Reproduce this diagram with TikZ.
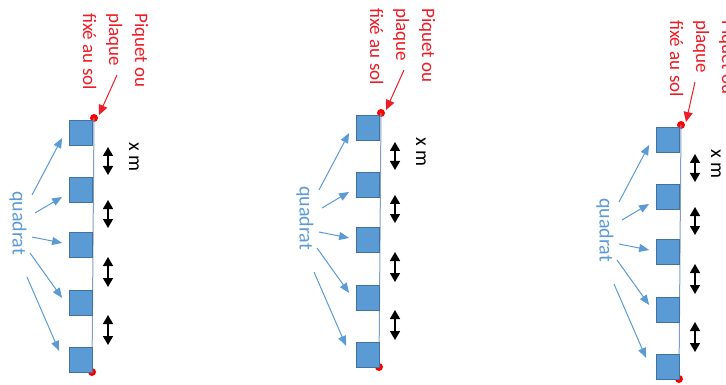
\documentclass[tikz,border=0pt]{standalone}
\usepackage{fontspec}
\setmainfont{Carlito}
\usetikzlibrary{arrows.meta}
\definecolor{qblue}{HTML}{5B9BD5}
\definecolor{qborder}{HTML}{41719C}
\definecolor{qred}{HTML}{EE1C25}
\definecolor{qline}{HTML}{7F9FC8}
\tikzset{
  quad/.style={draw=qborder, fill=qblue, line width=0.9pt, minimum width=23pt, minimum height=25pt, inner sep=0pt, anchor=north east},
  pinpt/.style={circle, fill=red, inner sep=0pt, minimum size=8pt},
  bluearrow/.style={qblue, line width=1pt, -{Triangle[length=10pt,width=8pt]}},
  gaparrow/.style={black, line width=1.5pt, {Triangle[length=9pt,width=10pt]}-{Triangle[length=9pt,width=10pt]}},
  redlbl/.style={text=qred, font=\fontsize{19}{21}\selectfont, rotate=-90, anchor=base west, inner sep=0pt},
  redarrow/.style={qred, line width=1pt, -{Triangle[length=10pt,width=9pt]}},
  bluelbl/.style={text=qblue, font=\fontsize{20}{22}\selectfont, rotate=-90, inner sep=0pt},
  blacklbl/.style={font=\fontsize{20}{22}\selectfont, rotate=-90, inner sep=0pt},
  baseline/.style={qline, line width=1pt}
}
\begin{document}
\begin{tikzpicture}[x=1pt,y=-1pt]
\useasboundingbox (0,0) rectangle (726,385);
\foreach \g/\dx/\dy/\tx/\mx in {a/0/0/117/134, b/287/-5/117/134, c/587/7/108/129}{
\begin{scope}[shift={(\dx,\dy)}]
  % base line and pins
  \node[pinpt] (\g-p1) at (94,118) {};
  \node[pinpt] (\g-p2) at (92,372) {};
  \draw[baseline] (\g-p1.center) -- (\g-p2.center);
  % quadrats
  \node[quad] (\g-q1) at (93,120) {};
  \node[quad] (\g-q2) at (93,177) {};
  \node[quad] (\g-q3) at (93,232) {};
  \node[quad] (\g-q4) at (93,290) {};
  \node[quad] (\g-q5) at (93,347) {};
  % distance arrows
  \coordinate (\g-g1a) at (108,147); \coordinate (\g-g1b) at (108,175);
  \coordinate (\g-g2a) at (108,200); \coordinate (\g-g2b) at (108,228);
  \coordinate (\g-g3a) at (108,257); \coordinate (\g-g3b) at (108,287);
  \coordinate (\g-g4a) at (108,315); \coordinate (\g-g4b) at (108,345);
  \draw[gaparrow] (\g-g1a) -- (\g-g1b);
  \draw[gaparrow] (\g-g2a) -- (\g-g2b);
  \draw[gaparrow] (\g-g3a) -- (\g-g3b);
  \draw[gaparrow] (\g-g4a) -- (\g-g4b);
  \node[blacklbl] (\g-xm) at (\mx,157) {x m};
  % quadrat label and arrows
  \node[bluelbl] (\g-lbl) at (18,223) {quadrat};
  \coordinate (\g-s1) at (32,195);
  \coordinate (\g-s2) at (35,213);
  \coordinate (\g-s3) at (32,237);
  \coordinate (\g-s4) at (30,253);
  \coordinate (\g-s5) at (27,277);
  \draw[bluearrow] (\g-s1) -- ([shift={(-7,5)}]\g-q1.west);
  \draw[bluearrow] (\g-s2) -- ([shift={(-7,7)}]\g-q2.west);
  \draw[bluearrow] (\g-s3) -- ([shift={(-7,-2)}]\g-q3.west);
  \draw[bluearrow] (\g-s4) -- ([shift={(-7,-5)}]\g-q4.west);
  \draw[bluearrow] (\g-s5) -- ([shift={(-10,-9)}]\g-q5.west);
  % red label
  \node[redlbl] (\g-r1) at (135,13) {Piquet ou};
  \node[redlbl] (\g-r2) at (109,13) {plaque};
  \node[redlbl] (\g-r3) at (83,13) {fixé au sol};
  \coordinate (\g-rt) at (\tx,75);
  \draw[redarrow] (\g-rt) -- ([shift={(5,-3)}]\g-p1.center);
\end{scope}
}
\end{tikzpicture}
\end{document}
